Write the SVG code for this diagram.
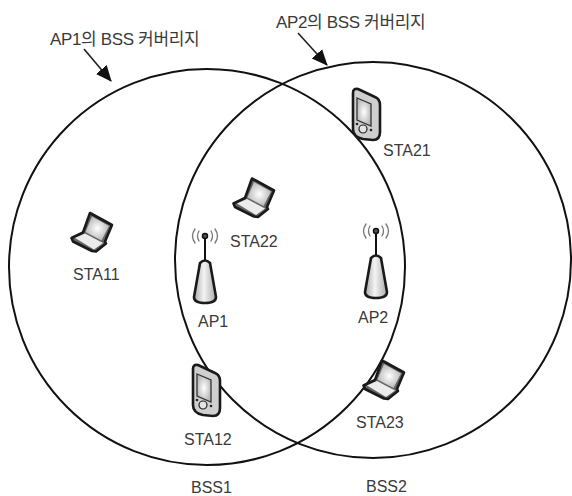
<svg xmlns="http://www.w3.org/2000/svg" width="572" height="496" viewBox="0 0 572 496">
<style>
text{font-family:"Liberation Sans","Noto Sans CJK KR",sans-serif;font-size:16px;fill:#3a3a3a}
.ko{font-size:17px;letter-spacing:-.35px}
.cov{fill:none;stroke:#111;stroke-width:2}
.arrow{stroke:#222;stroke-width:1.6;fill:none;marker-end:url(#head)}
.o{stroke:#1a1a1a;stroke-width:2.6;stroke-linejoin:round;stroke-linecap:round}
.w{fill:none;stroke:#777;stroke-width:1.3;stroke-linecap:round}
</style>
<defs>
<marker id="head" markerUnits="userSpaceOnUse" markerWidth="20" markerHeight="20" refX="15" refY="8" orient="auto"><path d="M0 1L16 8L0 15Z" fill="#111"/></marker>
<radialGradient id="scr"><stop offset="0" stop-color="#fff"/><stop offset="1" stop-color="#bbb"/></radialGradient>
<linearGradient id="body" x1="0" x2="1" y1="0" y2="0"><stop offset="0" stop-color="#aaa"/><stop offset=".45" stop-color="#f4f4f4"/><stop offset="1" stop-color="#aaa"/></linearGradient>
<g id="laptop">
<path class="o" d="M233.500 203.500L245 198L252 178.500L274 190.500L267 207L268 209L258 217L254 216.500L235 207Z" fill="#666"/>
<path d="M254 182L271 191.500L263.500 206L247.500 197.500Z" fill="url(#scr)"/>
<path d="M237 203.500L247 199L265 208.500L256 215Z" fill="#ececec"/>
</g>
<g id="pda">
<path class="o" d="M0 5Q0 0 5 1L22 9Q27 11 27 17L27 44Q27 52 20 52L10 51Q0 49 0 41Z" fill="#cfcfcf"/>
<path d="M4 10L18 16L18 38L4 32Z" fill="url(#scr)" stroke="#333" stroke-width="1.300"/>
<circle cx="10" cy="41" r="4" fill="#e4e4e4" stroke="#222" stroke-width="1.200"/>
<circle cx="4" cy="36" r="1.300" fill="#222"/><circle cx="18" cy="42" r="1.300" fill="#222"/>
</g>
<g id="ap">
<path d="M205 236V262" stroke="#111" stroke-width="2"/>
<circle cx="205" cy="236" r="2.500" fill="#555" stroke="#111" stroke-width="1.500"/>
<path class="w" d="M199 231Q196 236 199 241M211 231Q214 236 211 241M195 229Q190 236 195 243M215 229Q220 236 215 243"/>
<path class="o" d="M200 263Q205 258 210 263L216 297Q216 303 205 303Q194 303 194 297Z" fill="url(#body)"/>
</g>
</defs>
<g id="connectors">
<circle class="cov" cx="207" cy="267" r="198"/>
<circle class="cov" cx="373" cy="260" r="198"/>
<path class="arrow" d="M84 49L111 81"/>
<path class="arrow" d="M298 33L327 65"/>
</g>
<g id="label-ap1-coverage"><text class="ko" x="50" y="45">AP1의 BSS 커버리지</text></g>
<g id="label-ap2-coverage"><text class="ko" x="276" y="28">AP2의 BSS 커버리지</text></g>
<g id="sta11"><use href="#laptop" x="-162" y="34.500"/><text x="73" y="280">STA11</text></g>
<g id="sta22"><use href="#laptop"/><text x="230" y="247">STA22</text></g>
<g id="sta23"><use href="#laptop" x="130" y="182"/><text x="356" y="428">STA23</text></g>
<g id="sta21"><use href="#pda" x="353" y="88"/><text x="383" y="156">STA21</text></g>
<g id="sta12"><use href="#pda" x="193" y="364"/><text x="184" y="445">STA12</text></g>
<g id="ap1"><use href="#ap"/><text x="198" y="327">AP1</text></g>
<g id="ap2"><use href="#ap" x="171" y="-5"/><text x="358" y="323">AP2</text></g>
<g id="bss1"><text x="191" y="493">BSS1</text></g>
<g id="bss2"><text x="366" y="492">BSS2</text></g>
</svg>
